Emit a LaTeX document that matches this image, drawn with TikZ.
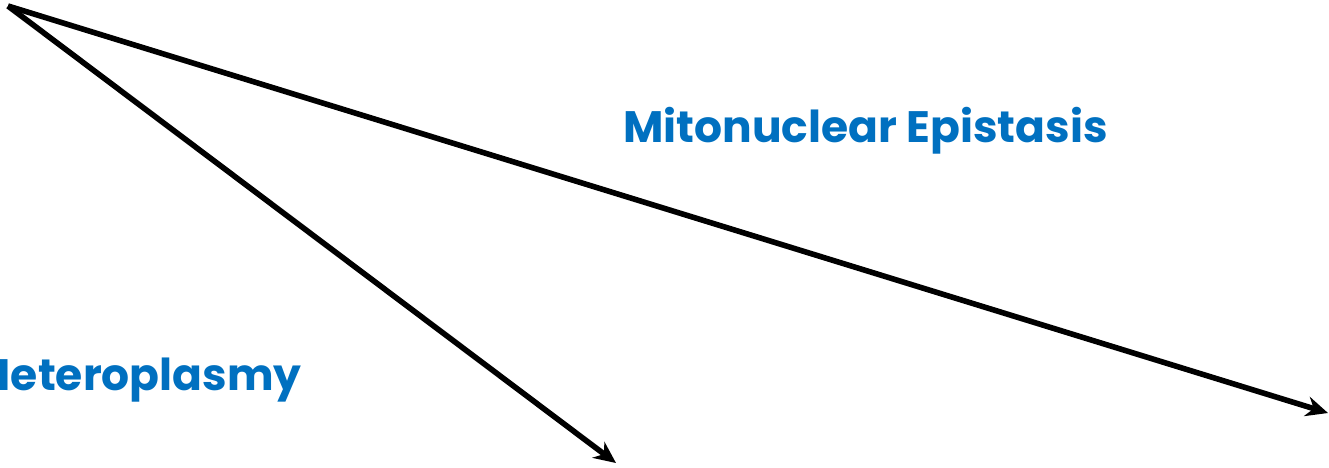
\documentclass[tikz,border=0pt]{standalone}
\usepackage{fontspec}
\setmainfont{Poppins}
\usetikzlibrary{arrows.meta,positioning}
\definecolor{labelblue}{RGB}{0,112,192}

\begin{document}
\begin{tikzpicture}[
    x=0.5pt, y=-0.5pt,
    label/.style={font=\bfseries\fontsize{22}{26}\selectfont, text=labelblue, inner sep=0pt},
    arrow/.style={-{Stealth[length=11pt,width=10pt]}, line width=2.8pt, black}
]
\clip (0,0) rectangle (1329,467);
\useasboundingbox (0,0) rectangle (1329,467);

% Origin and arrow ends
\coordinate (origin) at (8,6);
\coordinate (hetero) at (616,463);
\coordinate (epist) at (1328,413);

% Labels
\node[label, anchor=base east] (heteroplasmy) at (302,390) {Heteroplasmy};
\node[label, anchor=base west] (mitonuclear) at (623,142) {Mitonuclear Epistasis};

% Arrows
\draw[arrow] (origin) -- (hetero);
\draw[arrow] (origin) -- (epist);

\end{tikzpicture}
\end{document}
